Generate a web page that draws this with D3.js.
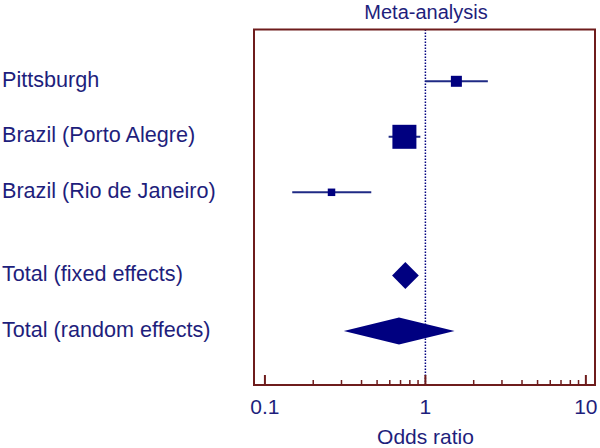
<!DOCTYPE html>
<html><head><meta charset="utf-8">
<script src="https://cdn.jsdelivr.net/npm/d3@7"></script>
<style>body{margin:0;background:#fff}svg{display:block}text{font-family:"Liberation Sans",Arial,sans-serif}</style>
</head><body>
<svg id="c" width="600" height="448"></svg>
<script>
const studies = ["Pittsburgh", "Brazil (Porto Alegre)", "Brazil (Rio de Janeiro)"];
const studyOR = [1.56, 0.74, 0.26];
const studyLo = [1.0, 0.59, 0.148];
const studyHi = [2.45, 0.93, 0.46];
const studyWeight = [11, 24, 7.5];
const totals = ["Total (fixed effects)", "Total (random effects)"];
const totalOR = [0.75, 0.685];
const totalLo = [0.62, 0.31];
const totalHi = [0.91, 1.52];
const tickLabels = [0.1, 1, 10];

const navy = "#000080", txt = "#1e1e7c", frame = "#6e1c1c";
const svg = d3.select("#c");
const L = 254, R = 595, T = 29.5, B = 385;
const x = d3.scaleLog().domain([0.0855, 11.4]).range([L, R]);
const y = d3.scaleLinear().domain([0, 1]).range([81.3, 136.8]);

// reference line
svg.append("line").attr("x1", x(1)).attr("x2", x(1)).attr("y1", T).attr("y2", B)
  .attr("stroke", navy).attr("stroke-width", 1.5).attr("stroke-dasharray", "1.5,1.5");

// frame
svg.append("rect").attr("x", L).attr("y", T).attr("width", R - L).attr("height", B - T)
  .attr("fill", "none").attr("stroke", frame).attr("stroke-width", 2);

// ticks
const minor = [];
for (let d = 0.1; d < 10; d *= 10) for (let k = 2; k <= 9; k++) minor.push(+(d * k).toFixed(3));
svg.selectAll(".mn").data(minor).enter().append("line")
  .attr("x1", d => x(d)).attr("x2", d => x(d)).attr("y1", B).attr("y2", B - 5)
  .attr("stroke", frame).attr("stroke-width", 1.5);
svg.selectAll(".mj").data(tickLabels).enter().append("line")
  .attr("x1", d => x(d)).attr("x2", d => x(d)).attr("y1", B).attr("y2", B - 10)
  .attr("stroke", frame).attr("stroke-width", 2);
svg.selectAll(".tl").data(tickLabels).enter().append("text")
  .attr("x", d => x(d)).attr("y", 413.5).attr("text-anchor", "middle")
  .attr("font-size", 21).attr("fill", txt).text(d => String(d));

svg.append("text").attr("x", 425.5).attr("y", 443.5).attr("text-anchor", "middle")
  .attr("font-size", 21).attr("fill", txt).text("Odds ratio");
svg.append("text").attr("x", 426).attr("y", 18.5).attr("text-anchor", "middle")
  .attr("font-size", 20).attr("fill", txt).text("Meta-analysis");

// studies
studies.forEach((s, i) => {
  const yy = y(i);
  svg.append("text").attr("x", 2).attr("y", yy + 5.5).attr("font-size", 21.6).attr("fill", txt).text(s);
  svg.append("line").attr("x1", x(studyLo[i])).attr("x2", x(studyHi[i])).attr("y1", yy).attr("y2", yy)
    .attr("stroke", "#1f2a85").attr("stroke-width", 2);
  const w = studyWeight[i];
  svg.append("rect").attr("x", x(studyOR[i]) - w / 2).attr("y", yy - w / 2).attr("width", w).attr("height", w)
    .attr("fill", navy);
});

// totals
totals.forEach((s, i) => {
  const yy = y(3.5 + i);
  svg.append("text").attr("x", 2).attr("y", yy + 5.5).attr("font-size", 21.6).attr("fill", txt).text(s);
  const h = 13.5;
  svg.append("path").attr("d", `M${x(totalLo[i])},${yy}L${x(totalOR[i])},${yy - h}L${x(totalHi[i])},${yy}L${x(totalOR[i])},${yy + h}Z`)
    .attr("fill", navy);
});
</script>
</body></html>
